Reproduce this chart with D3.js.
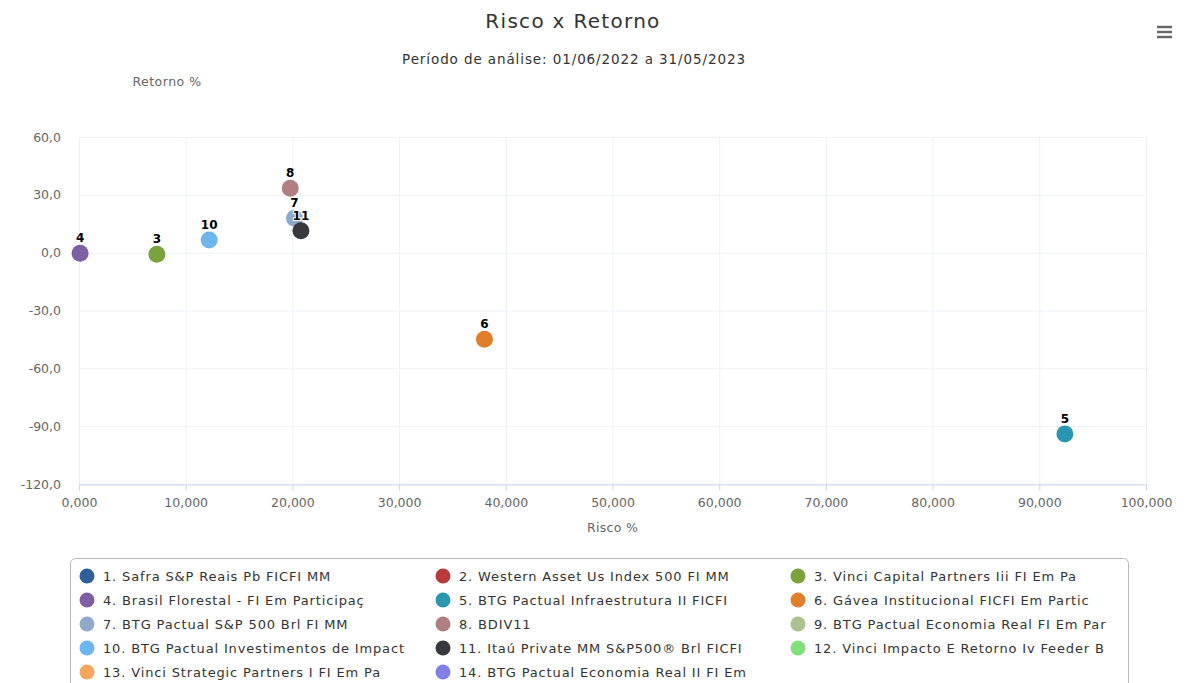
<!DOCTYPE html>
<html><head><meta charset="utf-8">
<script src="https://cdn.jsdelivr.net/npm/d3@7"></script>
<style>
html,body{margin:0;padding:0;background:#fff;}
svg{display:block;font-family:"DejaVu Sans",Verdana,sans-serif;}
</style></head>
<body><svg id="chart" width="1192" height="683"></svg>
<script>
// ---- data ----
const seriesNames = [
  "1. Safra S&P Reais Pb FICFI MM",
  "2. Western Asset Us Index 500 FI MM",
  "3. Vinci Capital Partners Iii FI Em Pa",
  "4. Brasil Florestal - FI Em Participaç",
  "5. BTG Pactual Infraestrutura II FICFI",
  "6. Gávea Institucional FICFI Em Partic",
  "7. BTG Pactual S&P 500 Brl FI MM",
  "8. BDIV11",
  "9. BTG Pactual Economia Real FI Em Par",
  "10. BTG Pactual Investimentos de Impact",
  "11. Itaú Private MM S&P500® Brl FICFI",
  "12. Vinci Impacto E Retorno Iv Feeder B",
  "13. Vinci Strategic Partners I FI Em Pa",
  "14. BTG Pactual Economia Real II FI Em"
];
const pointLabels = ["1","2","3","4","5","6","7","8","9","10","11","12","13","14"];
const riskValues   = [null, null, 7.3, 0.1, 92.4, 38.0, 20.2, 19.8, null, 12.2, 20.8, null, null, null];
const returnValues = [null, null, -0.8, -0.3, -94.0, -44.9, 17.8, 33.4, null, 6.6, 11.4, null, null, null];
const seriesColors = ["#2f5f9a","#b93a3a","#7aa23d","#7c60a3","#2a97b2","#e17e2c","#91a9c9","#b07f80",
                      "#a9c290","#6db5ec","#38393e","#7fe07c","#f5a65c","#8080e8"];
const xTicks = [0,10,20,30,40,50,60,70,80,90,100];
const yTicks = [60,30,0,-30,-60,-90,-120];
const titleText = "Risco x Retorno";
const subtitleText = "Período de análise: 01/06/2022 a 31/05/2023";
const xTitle = "Risco %";
const yTitle = "Retorno %";

// ---- chart ----
const svg = d3.select("#chart");
const loc = d3.formatLocale({decimal:",", thousands:".", grouping:[3], currency:["R$",""], minus:"-"});
const fx = loc.format(".3f"), fy = loc.format(".1f");

const x = d3.scaleLinear().domain([0,100]).range([79,1146]);
const y = d3.scaleLinear().domain([-120,60]).range([484,137]);

svg.append("text").attr("x",573).attr("y",28).attr("text-anchor","middle")
  .attr("font-size",20).attr("letter-spacing",1.3).attr("fill","#333").text(titleText);
svg.append("text").attr("x",574).attr("y",64).attr("text-anchor","middle")
  .attr("font-size",13.5).attr("letter-spacing",0.9).attr("fill","#333").text(subtitleText);
svg.append("text").attr("x",167).attr("y",86).attr("text-anchor","middle")
  .attr("font-size",12.5).attr("letter-spacing",0.5).attr("fill","#666").text(yTitle);

// hamburger
const hb = svg.append("g").attr("stroke","#666").attr("stroke-width",2.4);
[27,32,37].forEach(v=>hb.append("line").attr("x1",1157).attr("x2",1172).attr("y1",v).attr("y2",v));

// gridlines
const grid = svg.append("g");
grid.selectAll(".gx").data(xTicks).join("line")
  .attr("x1",d=>x(d)+0.5).attr("x2",d=>x(d)+0.5).attr("y1",y(60)).attr("y2",y(-120))
  .attr("stroke","#eef0f5").attr("stroke-width",1);
grid.selectAll(".gy").data(yTicks).join("line")
  .attr("x1",x(0)).attr("x2",x(100)).attr("y1",d=>y(d)+0.5).attr("y2",d=>y(d)+0.5)
  .attr("stroke","#eef0f5").attr("stroke-width",1);

// x axis
const xa = svg.append("g").attr("transform",`translate(0,${y(-120)+0.5})`)
  .call(d3.axisBottom(x).tickValues(xTicks).tickFormat(fx).tickSize(6).tickPadding(8));
xa.select(".domain").attr("stroke","#ccd6eb");
xa.selectAll(".tick line").attr("stroke","#ccd6eb");
xa.selectAll("text").attr("fill","#666").attr("font-size",12.5).attr("font-family","DejaVu Sans, sans-serif");

// y axis
const ya = svg.append("g").attr("transform",`translate(${x(0)},0)`)
  .call(d3.axisLeft(y).tickValues(yTicks).tickFormat(fy).tickSize(0).tickPadding(18));
ya.select(".domain").remove();
ya.selectAll("text").attr("fill","#666").attr("font-size",12.5).attr("font-family","DejaVu Sans, sans-serif");

svg.append("text").attr("x",(x(0)+x(100))/2).attr("y",532).attr("text-anchor","middle")
  .attr("font-size",12.5).attr("letter-spacing",0.3).attr("fill","#666").text(xTitle);

// points
const pts = seriesNames.map((n,i)=>({i, label:pointLabels[i], rx:riskValues[i], ry:returnValues[i], c:seriesColors[i]}))
  .filter(d=>d.rx!==null && d.ry!==null);
const pg = svg.append("g");
pts.forEach(d=>{
  pg.append("circle").attr("cx",x(d.rx)).attr("cy",y(d.ry)).attr("r",8.5).attr("fill",d.c);
  pg.append("text").attr("x",x(d.rx)).attr("y",y(d.ry)-11).attr("text-anchor","middle")
    .attr("font-size",12).attr("font-weight","bold").attr("fill","#000")
    .attr("stroke","#fff").attr("stroke-width",2).attr("paint-order","stroke").text(d.label);
});

// legend
svg.append("rect").attr("x",70.5).attr("y",558.5).attr("width",1058).attr("height",140).attr("rx",5)
  .attr("fill","#fff").attr("stroke","#b8b8b8");
const lg = svg.append("g");
seriesNames.forEach((n,i)=>{
  const col=i%3, row=Math.floor(i/3);
  const cx=[87,443,798][col], cy=576+row*24;
  lg.append("circle").attr("cx",cx).attr("cy",cy).attr("r",7.5).attr("fill",seriesColors[i]);
  lg.append("text").attr("x",cx+16).attr("y",cy+4.5).attr("font-size",13).attr("letter-spacing",0.85)
    .attr("fill","#333").text(n);
});
</script></body></html>
